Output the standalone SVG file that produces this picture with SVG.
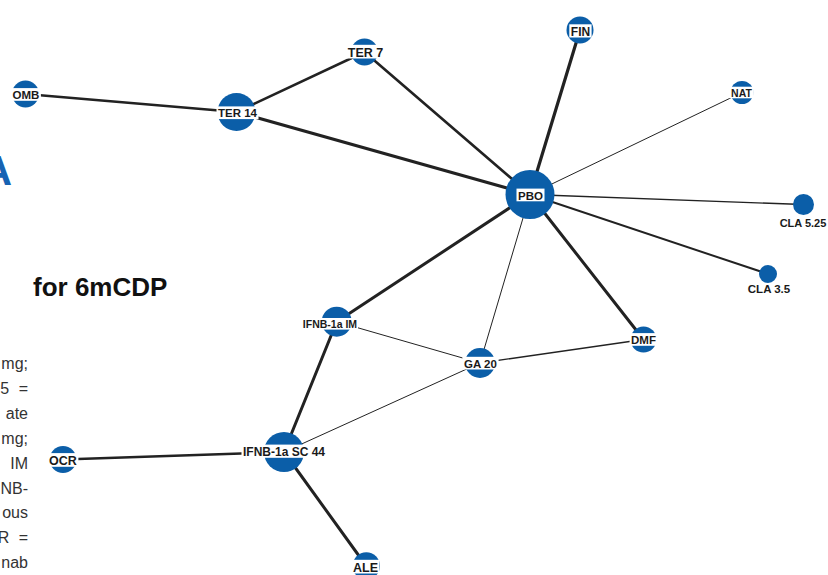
<svg xmlns="http://www.w3.org/2000/svg" width="828" height="575" viewBox="0 0 828 575">
<style>
.bg{fill:#ffffff}
.e{stroke:#222222;stroke-linecap:round;fill:none}
.n{fill:#0b5ea8}
.lb{fill:#ffffff}
.lt{font-family:"Liberation Sans",Arial,sans-serif;font-weight:bold;fill:#1a1a1a;text-anchor:middle}
.para{font-family:"Liberation Sans",Arial,sans-serif;font-size:16px;fill:#333333;text-anchor:end}
</style>
<rect class="bg" x="0" y="0" width="828" height="575"/>
<g id="page-text">
<text x="12" y="185" style="font-family:'Liberation Sans',Arial,sans-serif;font-weight:bold;font-size:42px;fill:#1763b3;text-anchor:end">A</text>
<text x="33" y="296" style="font-family:'Liberation Sans',Arial,sans-serif;font-weight:bold;font-size:26px;fill:#111111">for 6mCDP</text>
<text class="para" x="28" y="369">mg;</text>
<text class="para" x="28" y="394" word-spacing="5">5 =</text>
<text class="para" x="28" y="419">ate</text>
<text class="para" x="28" y="444">mg;</text>
<text class="para" x="28" y="469">IM</text>
<text class="para" x="28" y="494">NB-</text>
<text class="para" x="28" y="518">ous</text>
<text class="para" x="28" y="543" word-spacing="5">R =</text>
<text class="para" x="28" y="568">nab</text>
</g>
<g id="connectors">
<line class="e" x1="25.5" y1="94" x2="236.5" y2="112" stroke-width="2.4"/>
<line class="e" x1="236.5" y1="112" x2="364.5" y2="52" stroke-width="2.5"/>
<line class="e" x1="236.5" y1="112" x2="530" y2="194.5" stroke-width="3"/>
<line class="e" x1="364.5" y1="52" x2="530" y2="194.5" stroke-width="2.6"/>
<line class="e" x1="580" y1="30" x2="530" y2="194.5" stroke-width="3.2"/>
<line class="e" x1="742" y1="92.5" x2="530" y2="194.5" stroke-width="1"/>
<line class="e" x1="803.5" y1="204.5" x2="530" y2="194.5" stroke-width="1.3"/>
<line class="e" x1="768" y1="274" x2="530" y2="194.5" stroke-width="2"/>
<line class="e" x1="643.5" y1="339.5" x2="530" y2="194.5" stroke-width="3"/>
<line class="e" x1="480" y1="363" x2="530" y2="194.5" stroke-width="1"/>
<line class="e" x1="336.7" y1="321.7" x2="530" y2="194.5" stroke-width="3"/>
<line class="e" x1="336.7" y1="321.7" x2="480" y2="363" stroke-width="1"/>
<line class="e" x1="480" y1="363" x2="643.5" y2="339.5" stroke-width="1.3"/>
<line class="e" x1="284" y1="452" x2="480" y2="363" stroke-width="1"/>
<line class="e" x1="336.7" y1="321.7" x2="284" y2="452" stroke-width="3"/>
<line class="e" x1="63" y1="459.5" x2="284" y2="452" stroke-width="2.5"/>
<line class="e" x1="284" y1="452" x2="366.3" y2="566" stroke-width="3"/>
</g>
<g id="node-OMB">
<circle class="n" cx="25.5" cy="94" r="13.5"/>
<rect class="lb" x="11.1" y="88.1" width="29.8" height="12.7"/>
<text class="lt" x="26" y="99" font-size="11.5">OMB</text>
</g>
<g id="node-TER14">
<circle class="n" cx="236.5" cy="112" r="19"/>
<rect class="lb" x="216.5" y="106.4" width="42" height="12.7"/>
<text class="lt" x="237.5" y="117.3" font-size="11.5">TER 14</text>
</g>
<g id="node-TER7">
<circle class="n" cx="364.5" cy="52" r="13.5"/>
<rect class="lb" x="346.3" y="44.8" width="38.4" height="13.7"/>
<text class="lt" x="365.5" y="56.7" font-size="12.5">TER 7</text>
</g>
<g id="node-FIN">
<circle class="n" cx="580" cy="30" r="13.5"/>
<rect class="lb" x="569.3" y="24.3" width="22.3" height="13.2"/>
<text class="lt" x="580.5" y="35.7" font-size="12">FIN</text>
</g>
<g id="node-NAT">
<circle class="n" cx="742" cy="92.5" r="11.5"/>
<rect class="lb" x="729.2" y="86.7" width="24.6" height="11.6"/>
<text class="lt" x="741.5" y="96.7" font-size="10.5">NAT</text>
</g>
<g id="node-PBO">
<circle class="n" cx="530" cy="194.5" r="24.5"/>
<rect class="lb" x="516.5" y="188.6" width="28" height="12.7"/>
<text class="lt" x="530.5" y="199.5" font-size="11.5">PBO</text>
</g>
<g id="node-CLA525">
<circle class="n" cx="803.5" cy="204.5" r="10.5"/>
<text class="lt" x="803" y="227.3" font-size="11">CLA 5.25</text>
</g>
<g id="node-CLA35">
<circle class="n" cx="768" cy="274" r="9"/>
<text class="lt" x="769" y="293.3" font-size="11.5">CLA 3.5</text>
</g>
<g id="node-IFNB1aIM">
<circle class="n" cx="336.7" cy="321.7" r="15"/>
<rect class="lb" x="302" y="318" width="56" height="11.6"/>
<text class="lt" x="330" y="328.3" font-size="10.5">IFNB-1a IM</text>
</g>
<g id="node-GA20">
<circle class="n" cx="480" cy="363" r="15"/>
<rect class="lb" x="462.4" y="356.8" width="36.2" height="12.7"/>
<text class="lt" x="480.5" y="367.7" font-size="11.5">GA 20</text>
</g>
<g id="node-DMF">
<circle class="n" cx="643.5" cy="339.5" r="13"/>
<rect class="lb" x="629.6" y="333.1" width="27.9" height="12.7"/>
<text class="lt" x="643.5" y="344" font-size="11.5">DMF</text>
</g>
<g id="node-IFNB1aSC44">
<circle class="n" cx="284" cy="452" r="20"/>
<rect class="lb" x="241.5" y="444.6" width="85" height="13.2"/>
<text class="lt" x="284" y="456" font-size="12">IFNB-1a SC 44</text>
</g>
<g id="node-OCR">
<circle class="n" cx="63" cy="459.5" r="13.5"/>
<rect class="lb" x="47.6" y="453.1" width="30.8" height="13.7"/>
<text class="lt" x="63" y="465" font-size="12.5">OCR</text>
</g>
<g id="node-ALE">
<circle class="n" cx="366.3" cy="566" r="13.7"/>
<rect class="lb" x="351.5" y="559.8" width="28" height="13.7"/>
<text class="lt" x="365.5" y="571.7" font-size="12.5">ALE</text>
</g>
</svg>
